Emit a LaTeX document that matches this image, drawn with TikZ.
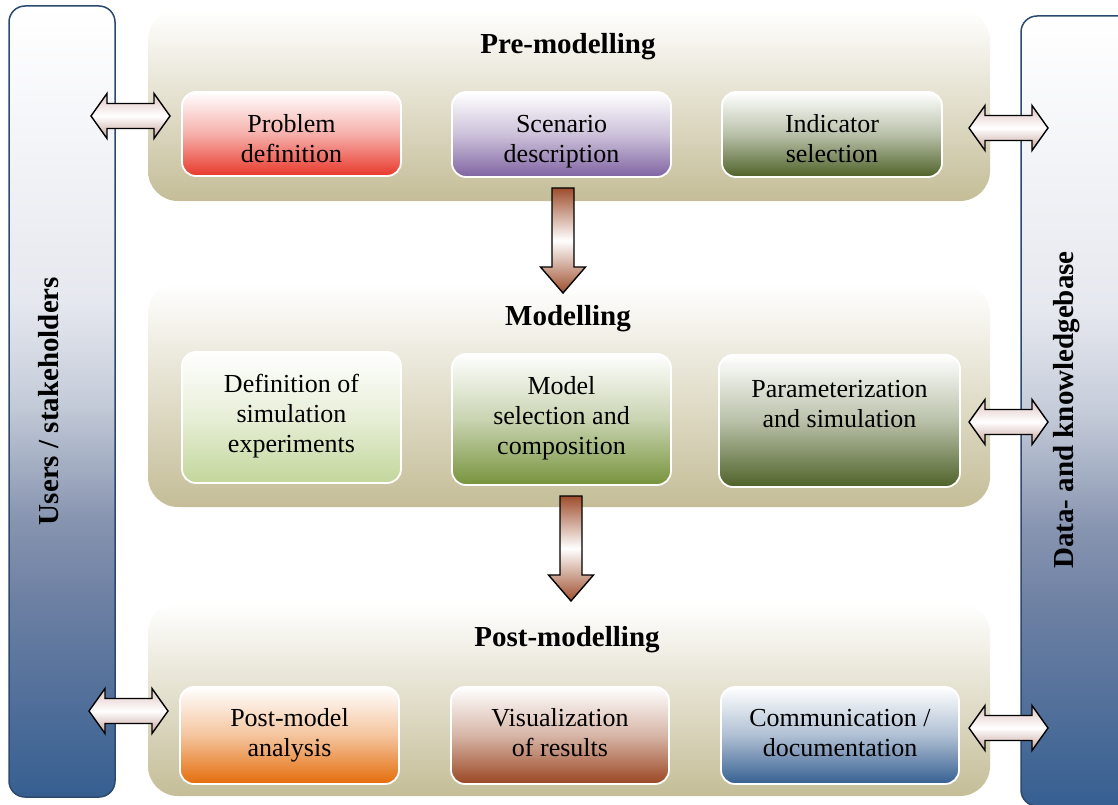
\documentclass[tikz,border=0pt]{standalone}
\usepackage{fontspec}
\setmainfont{Liberation Serif}
\definecolor{barblue}{HTML}{365F91}
\definecolor{barcA}{HTML}{6D80A3}
\definecolor{barcB}{HTML}{8794B0}
\definecolor{barcC}{HTML}{C5CCD9}
\definecolor{barcD}{HTML}{E6E8EF}
\definecolor{barline}{HTML}{2C4A70}
\definecolor{khaki}{HTML}{C4BD97}
\definecolor{cred}{HTML}{E8382B}
\definecolor{cpurple}{HTML}{8064A2}
\definecolor{colive}{HTML}{4F6228}
\definecolor{clight}{HTML}{C3D69B}
\definecolor{cgreen}{HTML}{77933C}
\definecolor{corange}{HTML}{E46C0A}
\definecolor{cbrown}{HTML}{9A4622}
\definecolor{cblue}{HTML}{365F91}
\definecolor{arrbrown}{HTML}{9E4E2D}
\definecolor{arrpinkT}{HTML}{DEC4C0}
\definecolor{arrpinkB}{HTML}{C6A098}
\pgfdeclareverticalshading{barsh}{100bp}{color(0bp)=(barblue); color(25bp)=(barblue); color(37.5bp)=(barcA); color(42.5bp)=(barcB); color(50bp)=(barcC); color(56.4bp)=(barcD); color(75bp)=(white); color(100bp)=(white)}
\newcommand{\vblock}[3]{\draw[blockarrow, top color=arrbrown, bottom color=arrbrown, middle color=white] (#1-11,#2) -- (#1+11,#2) -- (#1+11,#3-26) -- (#1+22.5,#3-26) -- (#1,#3) -- (#1-22.5,#3-26) -- (#1-11,#3-26) -- cycle;}
\newcommand{\hblock}[2]{\draw[blockarrow, top color=arrpinkT, bottom color=arrpinkB, middle color=white] (#1-39.5,#2) -- (#1-23.5,#2-22.5) -- (#1-23.5,#2-12.5) -- (#1+23.5,#2-12.5) -- (#1+23.5,#2-22.5) -- (#1+39.5,#2) -- (#1+23.5,#2+22.5) -- (#1+23.5,#2+12.5) -- (#1-23.5,#2+12.5) -- (#1-23.5,#2+22.5) -- cycle;}
\tikzset{
  bar/.style={draw=barline, line width=1.5pt, rounded corners=16pt, shade, shading=barsh, inner sep=0pt},
  panel/.style={rounded corners=30pt, top color=white, bottom color=khaki, inner sep=0pt, minimum width=842pt},
  ibox/.style={draw=white, line width=1.8pt, rounded corners=14pt, inner sep=0pt, top color=white, bottom color=#1, middle color=#1!40!white},
  ttl/.style={font=\fontsize{29}{34}\selectfont\bfseries, inner sep=0pt},
  btxt/.style={font=\fontsize{26}{30}\selectfont, align=center, inner sep=0pt},
  vtxt/.style={font=\fontsize{29}{34}\selectfont\bfseries, rotate=90, inner sep=0pt},
  blockarrow/.style={draw=black, line width=1.4pt, line join=miter},
}
\begin{document}
\begin{tikzpicture}[x=1pt,y=-1pt]
\useasboundingbox (0,0) rectangle (1118,805);
% side bars
\node[bar, minimum width=106pt, minimum height=791pt] (users) at (62,401.5) {};
\node[bar, minimum width=119pt, minimum height=790pt] (data) at (1080.5,411) {};
\node[vtxt] (userstxt) at (49,401) {Users / stakeholders};
\node[vtxt] (datatxt) at (1067,410) {Data- and knowledgebase};
% panels
\node[panel, minimum height=191pt] (pre) at (569,105.5) {};
\node[panel, minimum height=224pt] (mod) at (569,395) {};
\node[panel, minimum height=193pt] (postp) at (569,699.5) {};
\node[ttl] (pretitle) at (568,47) {Pre-modelling};
\node[ttl] (modtitle) at (568,319) {Modelling};
\node[ttl] (posttitle) at (567,640) {Post-modelling};
% inner boxes
\node[ibox=cred, minimum width=219pt, minimum height=84pt] (prob) at (291.5,134) {};
\node[ibox=cpurple, minimum width=219pt, minimum height=85pt] (scen) at (561.5,134.5) {};
\node[ibox=colive, minimum width=220pt, minimum height=85pt] (ind) at (832,134.5) {};
\node[ibox=clight, minimum width=219pt, minimum height=131pt] (defn) at (291.5,417.5) {};
\node[ibox=cgreen, minimum width=219pt, minimum height=131pt] (msel) at (561.5,419.5) {};
\node[ibox=colive, minimum width=241pt, minimum height=132pt] (param) at (839.5,421) {};
\node[ibox=corange, minimum width=219pt, minimum height=97pt] (pma) at (289.5,735.5) {};
\node[ibox=cbrown, minimum width=218pt, minimum height=97pt] (vis) at (560,735.5) {};
\node[ibox=cblue, minimum width=238pt, minimum height=97pt] (comm) at (840,735.5) {};
% texts
\node[btxt] (probt) at (291.5,139) {Problem\\definition};
\node[btxt] (scent) at (561.5,142) {Scenario\\description};
\node[btxt] (indt) at (832,139) {Indicator\\selection};
\node[btxt] (defnt) at (291.5,416) {Definition of\\simulation\\experiments};
\node[btxt] (mselt) at (561.5,418) {Model\\selection and\\composition};
\node[btxt] (paramt) at (839.5,404) {Parameterization\\and simulation};
\node[btxt] (pmat) at (289.5,735) {Post-model\\analysis};
\node[btxt] (vist) at (560,733) {Visualization\\of results};
\node[btxt] (commt) at (840,733) {Communication /\\documentation};
% block arrows
\vblock{563}{188}{293}
\vblock{571}{496}{601}
\hblock{130.5}{116}
\hblock{1008.5}{128}
\hblock{1008.5}{422}
\hblock{128.5}{711}
\hblock{1008.5}{728}
\end{tikzpicture}
\end{document}
